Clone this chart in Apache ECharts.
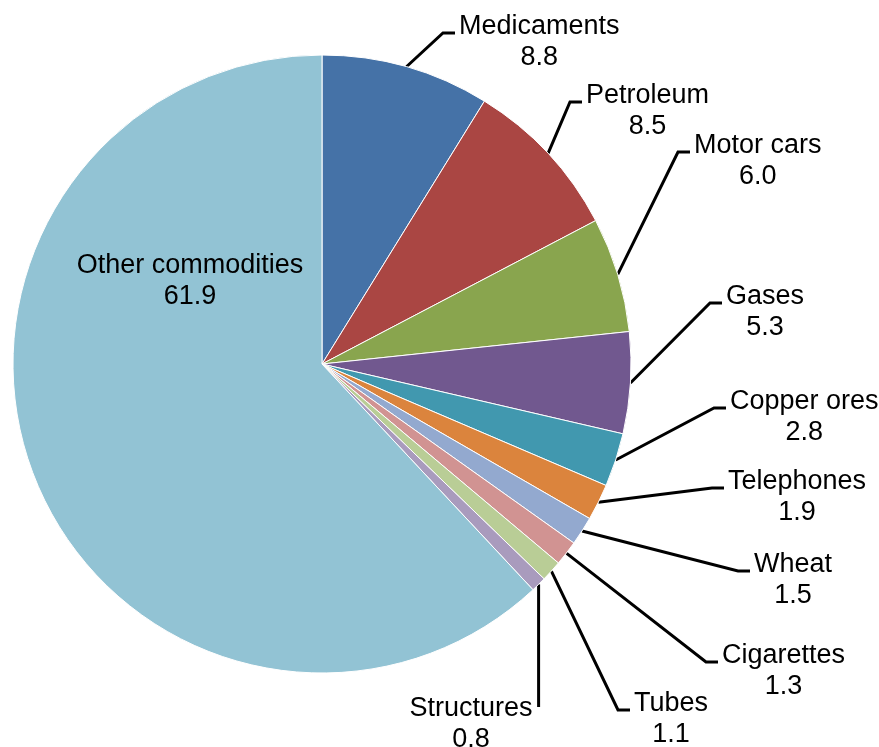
<!DOCTYPE html>
<html>
<head>
<meta charset="utf-8">
<script src="https://cdn.jsdelivr.net/npm/echarts@6/dist/echarts.min.js"></script>
<style>
html,body{margin:0;padding:0;background:#fff;}
#chart{width:879px;height:747px;}
</style>
</head>
<body>
<div id="chart"></div>
<script>
// ---- data ----
var categories = ['Medicaments','Petroleum','Motor cars','Gases','Copper ores','Telephones','Wheat','Cigarettes','Tubes','Structures','Other commodities'];
var values = [8.8, 8.5, 6.0, 5.3, 2.8, 1.9, 1.5, 1.3, 1.1, 0.8, 61.9];

// ---- styles / layout ----
var colors = ['#4572A7','#AA4643','#89A54E','#71588F','#4198AF','#DB843D','#93A9CF','#D19392','#B9CD96','#A99BBD','#92C3D4'];
var CX = 322, CY = 364, R = 309;
// end point of each leader line (label attaches here)
var leader = {
  'Medicaments': {x: 455, y: 33},
  'Petroleum':   {x: 582, y: 102},
  'Motor cars':  {x: 690, y: 152},
  'Gases':       {x: 722, y: 303},
  'Copper ores': {x: 726, y: 408},
  'Telephones':  {x: 724, y: 488},
  'Wheat':       {x: 750, y: 571},
  'Cigarettes':  {x: 718, y: 662},
  'Tubes':       {x: 630, y: 710},
  'Structures':  {side: 'left', y: 707}
};
var innerLabel = {x: 190, y: 266};
var LH = 31;

var total = values.reduce(function(a,b){return a+b;},0);
function edgePoint(i){
  var cum = 0;
  for (var k=0;k<i;k++) cum += values[k];
  var mid = (cum + values[i]/2) / total * Math.PI * 2;
  return [CX + R*Math.sin(mid), CY - R*Math.cos(mid)];
}

var data = categories.map(function(c,i){
  var d = {name: c, value: values[i], itemStyle: {color: colors[i]}};
  if (c === 'Other commodities') {
    d.label = {position: 'inside'};
    d.labelLine = {show: false};
  }
  return d;
});

var chart = echarts.init(document.getElementById('chart'), null, {renderer: 'canvas'});
chart.setOption({
  animation: false,
  backgroundColor: '#fff',
  series: [{
    type: 'pie',
    center: [CX, CY],
    radius: R,
    startAngle: 90,
    clockwise: true,
    avoidLabelOverlap: false,
    data: data,
    itemStyle: {borderColor: '#fff', borderWidth: 1},
    label: {
      show: true,
      position: 'outside',
      formatter: function(p){ return p.name + '\n' + p.value.toFixed(1); },
      fontFamily: 'Liberation Sans, Arial, sans-serif',
      fontSize: 27,
      lineHeight: LH,
      color: '#000',
      align: 'center'
    },
    labelLine: {
      show: true,
      length: 20,
      length2: 12,
      lineStyle: {color: '#000', width: 3}
    },
    emphasis: {disabled: true},
    labelLayout: function(p){
      var i = p.dataIndex, name = categories[i];
      var w = p.labelRect.width;
      if (name === 'Other commodities') {
        return {x: innerLabel.x, y: innerLabel.y - LH/2, align: 'center', verticalAlign: 'top'};
      }
      var e = edgePoint(i);
      var s = leader[name];
      if (s.side === 'left') {
        return {
          x: e[0] - 6 - w/2, y: s.y + 2 - LH/2, align: 'center', verticalAlign: 'top',
          labelLinePoints: [e, [e[0], s.y], [e[0], s.y]]
        };
      }
      return {
        x: s.x + 4 + w/2, y: s.y - 6 - LH/2, align: 'center', verticalAlign: 'top',
        labelLinePoints: [e, [s.x - 12, s.y], [s.x, s.y]]
      };
    }
  }]
});
</script>
</body>
</html>
